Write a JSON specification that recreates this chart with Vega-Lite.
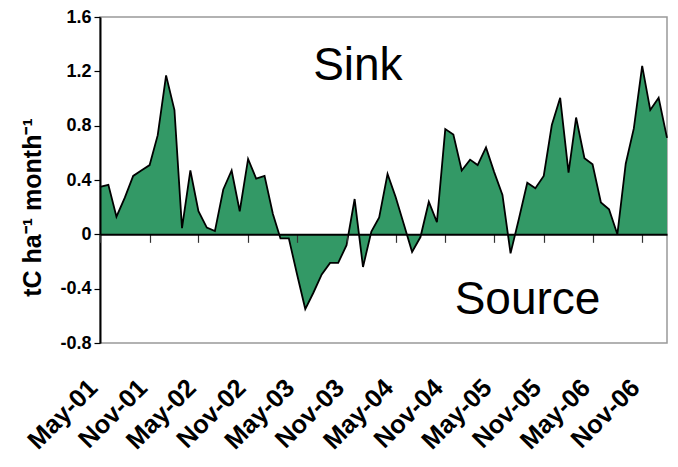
{
  "$schema": "https://vega.github.io/schema/vega-lite/v6.json",
  "width": 567,
  "height": 326,
  "autosize": "none",
  "padding": {"left": 100, "top": 17, "right": 11, "bottom": 124},
  "background": "white",
  "config": {
    "font": "Liberation Sans",
    "view": {"stroke": "#999999", "strokeWidth": 1.5}
  },
  "datasets": {
    "flux": [
      {"date": "2001-05-01", "v": 0.35}, {"date": "2001-06-01", "v": 0.365}, {"date": "2001-07-01", "v": 0.13},
      {"date": "2001-08-01", "v": 0.27}, {"date": "2001-09-01", "v": 0.43}, {"date": "2001-10-01", "v": 0.47},
      {"date": "2001-11-01", "v": 0.51}, {"date": "2001-12-01", "v": 0.73}, {"date": "2002-01-01", "v": 1.17},
      {"date": "2002-02-01", "v": 0.915}, {"date": "2002-03-01", "v": 0.046}, {"date": "2002-04-01", "v": 0.47},
      {"date": "2002-05-01", "v": 0.17}, {"date": "2002-06-01", "v": 0.05}, {"date": "2002-07-01", "v": 0.024},
      {"date": "2002-08-01", "v": 0.33}, {"date": "2002-09-01", "v": 0.47}, {"date": "2002-10-01", "v": 0.17},
      {"date": "2002-11-01", "v": 0.555}, {"date": "2002-12-01", "v": 0.41}, {"date": "2003-01-01", "v": 0.43},
      {"date": "2003-02-01", "v": 0.15}, {"date": "2003-03-01", "v": -0.03}, {"date": "2003-04-01", "v": -0.03},
      {"date": "2003-05-01", "v": -0.29}, {"date": "2003-06-01", "v": -0.55}, {"date": "2003-07-01", "v": -0.43},
      {"date": "2003-08-01", "v": -0.295}, {"date": "2003-09-01", "v": -0.21}, {"date": "2003-10-01", "v": -0.21},
      {"date": "2003-11-01", "v": -0.08}, {"date": "2003-12-01", "v": 0.26}, {"date": "2004-01-01", "v": -0.24},
      {"date": "2004-02-01", "v": 0.02}, {"date": "2004-03-01", "v": 0.125}, {"date": "2004-04-01", "v": 0.445},
      {"date": "2004-05-01", "v": 0.275}, {"date": "2004-06-01", "v": 0.07}, {"date": "2004-07-01", "v": -0.13},
      {"date": "2004-08-01", "v": -0.02}, {"date": "2004-09-01", "v": 0.24}, {"date": "2004-10-01", "v": 0.09},
      {"date": "2004-11-01", "v": 0.775}, {"date": "2004-12-01", "v": 0.735}, {"date": "2005-01-01", "v": 0.47},
      {"date": "2005-02-01", "v": 0.55}, {"date": "2005-03-01", "v": 0.51}, {"date": "2005-04-01", "v": 0.64},
      {"date": "2005-05-01", "v": 0.46}, {"date": "2005-06-01", "v": 0.29}, {"date": "2005-07-01", "v": -0.14},
      {"date": "2005-08-01", "v": 0.115}, {"date": "2005-09-01", "v": 0.38}, {"date": "2005-10-01", "v": 0.34},
      {"date": "2005-11-01", "v": 0.43}, {"date": "2005-12-01", "v": 0.805}, {"date": "2006-01-01", "v": 1.005},
      {"date": "2006-02-01", "v": 0.455}, {"date": "2006-03-01", "v": 0.86}, {"date": "2006-04-01", "v": 0.56},
      {"date": "2006-05-01", "v": 0.515}, {"date": "2006-06-01", "v": 0.235}, {"date": "2006-07-01", "v": 0.185},
      {"date": "2006-08-01", "v": 0.0}, {"date": "2006-09-01", "v": 0.52}, {"date": "2006-10-01", "v": 0.78},
      {"date": "2006-11-01", "v": 1.24}, {"date": "2006-12-01", "v": 0.915}, {"date": "2007-01-01", "v": 1.005},
      {"date": "2007-02-01", "v": 0.71}
    ],
    "notes": [
      {"date": "2003-12-13", "v": 1.136, "label": "Sink"},
      {"date": "2005-09-02", "v": -0.587, "label": "Source"}
    ]
  },
  "encoding": {
    "x": {
      "field": "date",
      "type": "temporal",
      "scale": {
        "type": "utc",
        "domain": [
          {"year": 2001, "month": 5, "date": 1, "utc": true},
          {"year": 2007, "month": 2, "date": 1, "utc": true}
        ]
      },
      "axis": {
        "title": null,
        "values": [
          {"year": 2001, "month": 5, "date": 1, "utc": true},
          {"year": 2001, "month": 11, "date": 1, "utc": true},
          {"year": 2002, "month": 5, "date": 1, "utc": true},
          {"year": 2002, "month": 11, "date": 1, "utc": true},
          {"year": 2003, "month": 5, "date": 1, "utc": true},
          {"year": 2003, "month": 11, "date": 1, "utc": true},
          {"year": 2004, "month": 5, "date": 1, "utc": true},
          {"year": 2004, "month": 11, "date": 1, "utc": true},
          {"year": 2005, "month": 5, "date": 1, "utc": true},
          {"year": 2005, "month": 11, "date": 1, "utc": true},
          {"year": 2006, "month": 5, "date": 1, "utc": true},
          {"year": 2006, "month": 11, "date": 1, "utc": true}
        ],
        "labelExpr": "utcFormat(datum.value, '%b-%y')",
        "offset": -108.67,
        "grid": false,
        "domainColor": "black",
        "domainWidth": 2,
        "tickColor": "#333333",
        "tickWidth": 1.2,
        "tickSize": 8,
        "labelAngle": -45,
        "labelAlign": "right",
        "labelBaseline": "middle",
        "labelPadding": 141,
        "labelOffset": -7,
        "labelFontSize": 25.5,
        "labelFontWeight": "bold",
        "labelColor": "black",
        "labelOverlap": false,
        "labelFlush": false,
        "labelBound": false,
        "zindex": 2
      }
    },
    "y": {
      "field": "v",
      "type": "quantitative",
      "scale": {"domain": [-0.8, 1.6], "nice": false, "zero": false},
      "axis": {
        "title": "tC ha⁻¹ month⁻¹",
        "values": [-0.8, -0.4, 0, 0.4, 0.8, 1.2, 1.6],
        "labelExpr": "datum.value == 0 ? '0' : (datum.value < 0 ? '-' + format(-datum.value, '.1f') : format(datum.value, '.1f'))",
        "grid": false,
        "domainColor": "black",
        "domainWidth": 2,
        "tickColor": "black",
        "tickWidth": 1.2,
        "tickSize": 6,
        "labelFontSize": 18,
        "labelFontWeight": "bold",
        "labelColor": "black",
        "labelPadding": 3,
        "labelFlush": false,
        "labelOverlap": false,
        "titleFontSize": 25,
        "titleFontWeight": "bold",
        "titleColor": "black",
        "titleAngle": -90,
        "titleAlign": "center",
        "titleBaseline": "alphabetic",
        "titleX": -60,
        "titleY": 190,
        "zindex": 1
      }
    }
  },
  "layer": [
    {
      "data": {"name": "flux"},
      "mark": {"type": "area", "color": "#339966", "opacity": 1, "interpolate": "linear"}
    },
    {
      "data": {"name": "flux"},
      "mark": {"type": "line", "color": "black", "strokeWidth": 1.8, "interpolate": "linear"}
    },
    {
      "data": {"name": "notes"},
      "mark": {"type": "text", "fontSize": 46, "color": "black", "align": "center", "baseline": "alphabetic"},
      "encoding": {"text": {"field": "label"}}
    }
  ]
}
